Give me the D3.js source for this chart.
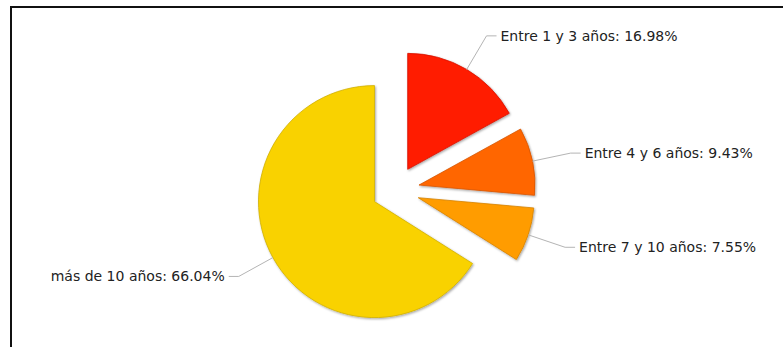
<!DOCTYPE html>
<html>
<head>
<meta charset="utf-8">
<script src="https://cdn.jsdelivr.net/npm/d3@7"></script>
<style>
  body { margin: 0; background: #fff; }
  .plabel { font-family: "DejaVu Sans", sans-serif; font-size: 14px; fill: #222; }
  .plink { fill: none; stroke: #b4b4b4; stroke-width: 1; }
</style>
</head>
<body>
<svg id="chart" width="783" height="347"></svg>
<script>
// chart values
var categories = ["Entre 1 y 3 años", "Entre 4 y 6 años", "Entre 7 y 10 años", "más de 10 años"];
var values = [16.98, 9.43, 7.55, 66.04];
var colors = ["#ff1a00", "#ff6600", "#ff9c00", "#f9d200"];

var svg = d3.select("#chart");
var cx = 395.5, cy = 190, radius = 116;
var explode = 24, linkRadius = 179;

// frame (only top and left edges fall inside the window)
svg.append("rect")
	.attr("x", 11).attr("y", 7)
	.attr("width", 800).attr("height", 400)
	.attr("fill", "none")
	.attr("stroke", "#111")
	.attr("stroke-width", 2);

var defs = svg.append("defs");
var filt = defs.append("filter").attr("id", "shade")
	.attr("x", "-10%").attr("y", "-10%").attr("width", "120%").attr("height", "120%");
filt.append("feDropShadow")
	.attr("dx", 1).attr("dy", 1.2).attr("stdDeviation", 0.8)
	.attr("flood-color", "#000").attr("flood-opacity", 0.35);

var pie = d3.pie().sort(null).value(function (d) { return d; });
var arcs = pie(values);
var arc = d3.arc().innerRadius(0).outerRadius(radius);

// unit vector in svg coords for a d3 pie angle
function dir(a) { return [Math.sin(a), -Math.cos(a)]; }

var g = svg.append("g").attr("transform", "translate(" + cx + "," + cy + ")");

g.selectAll("path.slice").data(arcs).enter().append("path")
	.attr("class", "slice")
	.attr("d", arc)
	.attr("transform", function (d) {
		var u = dir((d.startAngle + d.endAngle) / 2);
		return "translate(" + (u[0] * explode) + "," + (u[1] * explode) + ")";
	})
	.attr("fill", function (d, i) { return colors[i]; })
	.attr("stroke", function (d, i) { return d3.color(colors[i]).darker(0.5); })
	.attr("stroke-width", 0.8)
	.attr("filter", "url(#shade)");

// leader lines and labels
arcs.forEach(function (d, i) {
	var mid = (d.startAngle + d.endAngle) / 2;
	var u = dir(mid);
	var right = mid < Math.PI;
	var p0 = [u[0] * (radius + explode), u[1] * (radius + explode)];
	var p1 = [u[0] * linkRadius, u[1] * linkRadius];
	var p2 = [p1[0] + (right ? 10 : -10), p1[1]];

	g.append("path")
		.attr("class", "plink")
		.attr("d", d3.line()([p0, p1, p2]));

	g.append("text")
		.attr("class", "plabel")
		.attr("x", p1[0] + (right ? 14 : -14))
		.attr("y", p1[1])
		.attr("dy", "0.36em")
		.attr("text-anchor", right ? "start" : "end")
		.text(categories[i] + ": " + values[i].toFixed(2) + "%");
});
</script>
</body>
</html>
